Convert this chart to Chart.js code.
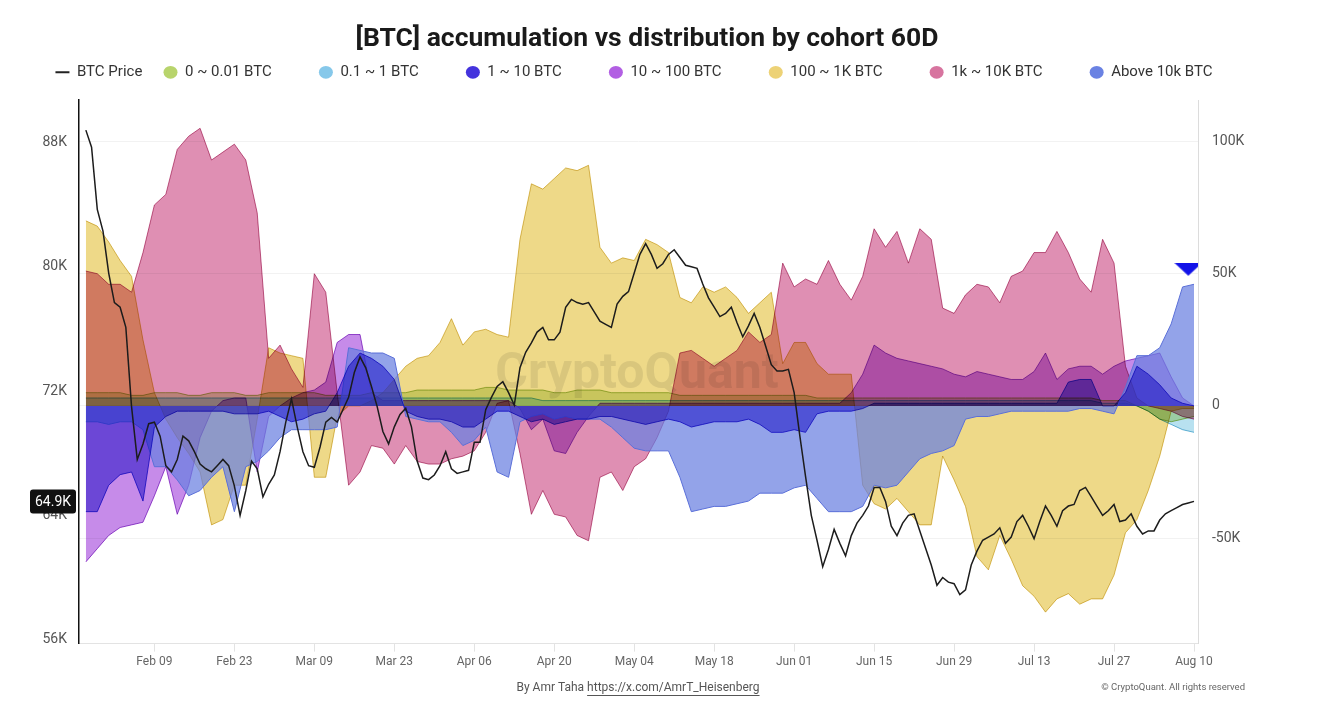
<!DOCTYPE html>
<html>
<head>
<meta charset="utf-8">
<script src="https://cdn.jsdelivr.net/npm/chart.js@4.4.1/dist/chart.umd.min.js"></script>
<style>
html,body{margin:0;padding:0;background:#fff;}
#wrap{position:relative;width:1292px;height:718px;}
</style>
</head>
<body>
<div id="wrap"><canvas id="c" width="1292" height="718"></canvas></div>
<script>
// ---- tick labels / categories ----
const tickDays = [12, 26, 40, 54, 68, 82, 96, 110, 124, 138, 152, 166, 180, 194];
const tickLabels = ['Feb 09','Feb 23','Mar 09','Mar 23','Apr 06','Apr 20','May 04','May 18','Jun 01','Jun 15','Jun 29','Jul 13','Jul 27','Aug 10'];
const priceTicks = [56, 64, 72, 80, 88];
const flowTicks = [-50, 0, 50, 100];

// ---- BTC price (K USD), daily ----
const btcPrice = [
 88.8,87.7,83.7,82.3,79.6,77.7,77.4,76.1,71.0,67.6,
 68.6,69.9,70.0,69.1,67.2,66.8,67.6,69.1,68.8,68.1,
 67.3,67.0,66.8,67.2,67.6,67.2,65.9,64.0,65.6,67.5,
 67.0,65.2,66.0,66.6,68.1,70.0,71.5,69.7,68.1,67.2,
 67.1,68.4,70.0,70.3,70.0,70.8,71.6,73.2,74.2,73.5,
 72.3,71.0,69.4,68.6,69.7,70.5,70.9,69.7,67.5,66.4,
 66.3,66.6,67.2,68.1,67.0,66.7,66.8,66.9,68.7,68.7,
 70.8,71.6,72.3,72.6,71.9,71.1,73.5,74.5,75.1,75.8,
 76.1,75.3,75.3,75.8,77.4,77.9,77.7,77.6,77.7,77.1,
 76.5,76.3,76.1,77.6,78.1,78.4,79.6,80.8,81.5,80.8,
 79.9,80.2,80.8,81.1,80.6,80.1,80.0,79.9,78.9,78.0,
 77.4,76.8,77.0,77.4,76.4,75.5,76.2,77.0,76.1,74.9,
 73.7,73.3,73.3,73.4,71.9,69.1,66.5,64.0,62.4,60.7,
 61.8,63.1,62.2,61.4,62.7,63.5,64.0,64.6,65.8,65.8,
 64.9,63.3,62.7,63.5,64.0,64.1,63.0,61.9,60.8,59.5,
 60.0,59.7,59.6,58.9,59.2,60.8,61.7,62.4,62.6,62.8,
 63.2,62.2,62.6,63.6,64.0,63.3,62.5,63.6,64.6,64.0,
 63.3,64.3,64.6,64.7,65.6,65.8,65.2,64.6,64.0,64.3,
 64.7,63.6,63.7,64.1,63.3,62.8,63.0,63.0,63.7,64.1,
 64.3,64.5,64.7,64.8,64.9
];

// ---- cohort 60D net position change (K BTC), every 2 days ----
const cohort0to001 = [
 5,5,5,5,4,4,5,5,5,4, 4,5,5,5,4,4,5,5,5,5, 5,4,4,4,4,5,5,5,5,6,
 6,6,6,6,6,7,7,6,6,6, 6,5,5,6,6,6,5,5,5,5, 5,5,4,4,4,4,4,4,4,4,
 4,4,4,4,3,3,3,3,3,3, 3,3,3,3,3,3,3,3,3,3, 3,3,3,3,3,3,3,3,3,2,
 2,2,0,-2,-5,-6,-5,-4
];
const cohort01to1 = [
 3,3,3,3,3,3,3,3,3,3, 3,3,3,3,3,3,3,3,3,3, 3,3,3,3,3,3,3,3,3,3,
 3,3,3,3,3,3,3,3,3,3, 2,2,2,2,2,2,2,2,2,2, 2,2,2,2,2,2,2,2,2,2,
 2,2,2,2,2,2,2,2,2,2, 2,2,2,2,2,2,2,2,2,2, 2,2,2,2,2,2,2,2,2,1,
 1,1,0,-2,-5,-7,-9,-10
];
const cohort1to10 = [
 -40,-40,-30,-26,-25,-36,-8,-4,-2,-2, -2,-2,-2,-3,-3,-3,-2,-4,-6,-5,
 -3,-2,5,15,20,18,15,10,-2,-4, -5,-5,-6,-8,-8,-5,-2,-2,-4,-6,
 -5,-7,-6,-5,-5,-4,-4,-5,-6,-7, -6,-5,-6,-8,-7,-6,-6,-6,-5,-7,
 -10,-10,-9,-10,-3,-2,-2,-2,-1,1, 1,1,1,1,1,1,1,1,1,1,
 1,1,1,1,1,1,9,10,10,0, 0,5,15,12,8,3,1,0
];
const cohort10to100 = [
 -59,-54,-49,-46,-45,-44,-34,-23,-41,-30, -12,-2,2,3,3,-25,-4,0,3,5,
 6,9,24,27,27,5,2,2,2,2, 2,2,2,2,2,2,2,2,-1,-9,
 -5,-17,-18,-10,-4,1,1,1,1,1, 1,1,1,1,1,1,1,1,1,1,
 1,1,1,1,1,1,1,5,12,23, 20,18,17,16,15,14,12,11,13,12,
 11,10,10,13,20,10,14,15,15,12, 15,17,18,19,20,11,3,0
];
const cohort100to1k = [
 70,68,62,55,49,25,5,-5,-12,-18, -25,-45,-43,-30,-30,-5,22,20,19,18,
 -27,-27,-4,0,0,2,5,10,15,18, 19,24,33,23,28,29,27,26,63,84,
 82,86,90,89,91,60,54,56,55,63, 61,58,41,39,45,43,45,41,35,39,
 43,16,24,24,16,12,12,12,-30,-37, -39,-35,-40,-45,-45,-19,-28,-38,-57,-62,
 -49,-58,-68,-72,-78,-73,-71,-75,-73,-73, -64,-48,-43,-32,-19,-2,-1,-1
];
const cohort1kto10k = [
 51,50,46,46,43,58,76,80,97,102, 105,93,96,99,93,73,18,23,14,7,
 50,43,5,-30,-25,-15,-16,-22,-15,-21, -22,-22,-20,-19,-17,-10,1,2,-18,-41,
 -32,-41,-42,-49,-51,-27,-25,-32,-23,-20, -12,-2,20,21,18,15,18,21,28,24,
 27,54,45,48,46,55,46,40,49,67, 60,66,54,67,63,37,35,42,46,45,
 39,49,51,58,58,66,58,48,43,63, 54,15,3,0,-1,-2,-4,-5
];
const cohortAbove10k = [
 -6,-6,-7,-6,-6,-9,-23,-23,-28,-34, -32,-27,-23,-40,-23,-21,-17,-12,-9,-9,
 -9,-9,-8,22,21,20,20,18,-4,-5, -6,-6,-10,-15,-13,-8,-25,-27,-6,-4,
 -3,-5,-4,-5,-5,-5,-8,-12,-16,-17, -17,-17,-27,-40,-39,-38,-38,-37,-36,-33,
 -33,-33,-31,-30,-35,-40,-40,-40,-38,-30, -31,-30,-25,-20,-18,-17,-15,-5,-4,-4,
 -3,-2,-2,-2,-2,-2,-2,-1,-1,-2, -3,7,19,19,22,31,45,46
];
const markerPoint = [{x: 193, y: 51.5}];

// ---- build ----
const daily = arr => arr.map((v, i) => ({x: i, y: v}));
const every2 = arr => arr.map((v, i) => ({x: i * 2, y: v}));

function area(name, pad, data, swatch, line, fillColor, order, blend) {
  return {
    label: name, legendName: name, legendPad: pad, swatch, blend,
    data: every2(data), yAxisID: 'yR',
    borderColor: line, backgroundColor: fillColor, borderWidth: 1,
    fill: 'origin', pointRadius: 0, pointHoverRadius: 0, tension: 0, order
  };
}

const tri = document.createElement('canvas');
tri.width = 28; tri.height = 14;
const tctx = tri.getContext('2d');
tctx.fillStyle = '#1212e8';
tctx.beginPath(); tctx.moveTo(0, 0); tctx.lineTo(28, 0); tctx.lineTo(14, 13); tctx.closePath(); tctx.fill();

const PAD = '          ';
const datasets = [
  { label: 'BTC Price', legendName: 'BTC Price', legendPad: '   ', swatch: '#222', isPrice: true,
    data: daily(btcPrice), yAxisID: 'yL', borderColor: '#1c1c1c', borderWidth: 1.5,
    pointRadius: 0, fill: false, tension: 0, order: 0, blend: 'source-over' },
  area('0 ~ 0.01 BTC', PAD, cohort0to001, '#b8d46c', '#a8c45c', 'rgba(181,211,107,0.55)', 4, 'multiply'),
  area('0.1 ~ 1 BTC', PAD, cohort01to1, '#86c8ea', '#6ab8d8', 'rgba(126,200,227,0.55)', 3, 'multiply'),
  area('1 ~ 10 BTC', PAD, cohort1to10, '#4433dd', '#4a3ee0', 'rgba(68,51,221,0.62)', 1, 'multiply'),
  area('10 ~ 100 BTC', PAD, cohort10to100, '#b25fe3', '#a050d0', 'rgba(176,94,224,0.72)', 5, 'multiply'),
  area('100 ~ 1K BTC', PAD, cohort100to1k, '#edd276', '#dcc060', 'rgba(232,204,96,0.75)', 7, 'multiply'),
  area('1k ~ 10K BTC', PAD, cohort1kto10k, '#d7749f', '#c4628e', 'rgba(212,106,154,0.75)', 6, 'multiply'),
  area('Above 10k BTC', '       ', cohortAbove10k, '#6a82e3', '#5a6fd8', 'rgba(106,128,224,0.72)', 2, 'source-over'),
  { label: 'marker', data: markerPoint, yAxisID: 'yR', showLine: false,
    pointStyle: tri, pointRadius: 10, order: -1, blend: 'source-over' }
];

function drawOrder(chart) {
  // Chart.js draws the highest `order` first
  return chart.data.datasets.map((d, i) => i)
    .sort((a, b) => (chart.data.datasets[b].order - chart.data.datasets[a].order) || (b - a));
}

const blendPlugin = {
  id: 'blend',
  beforeDatasetsDraw(chart) {
    chart.ctx.save();
    const seq = drawOrder(chart);
    chart.ctx.globalCompositeOperation = chart.data.datasets[seq[0]].blend || 'multiply';
  },
  afterDatasetDraw(chart, args) {
    const seq = drawOrder(chart);
    const k = seq.indexOf(args.index);
    const next = seq[k + 1];
    if (next !== undefined) {
      chart.ctx.globalCompositeOperation = chart.data.datasets[next].blend || 'multiply';
    }
  },
  afterDatasetsDraw(chart) {
    const c = chart.ctx;
    c.globalCompositeOperation = 'multiply';
    c.font = 'bold 50px Roboto';
    c.fillStyle = '#e9e9e9';
    c.textAlign = 'center';
    c.textBaseline = 'alphabetic';
    c.fillText('CryptoQuant', 637, 388);
    c.restore();
  }
};

const overlayPlugin = {
  id: 'overlay',
  afterDraw(chart) {
    const c = chart.ctx;
    const yL = chart.scales.yL;
    const last = btcPrice[btcPrice.length - 1];
    const py = yL.getPixelForValue(last);
    c.save();
    c.fillStyle = '#111';
    c.beginPath();
    if (c.roundRect) c.roundRect(30, py - 12, 46, 24, 3); else c.rect(30, py - 12, 46, 24);
    c.fill();
    c.fillStyle = '#fff';
    c.font = '14px Roboto';
    c.textAlign = 'center';
    c.textBaseline = 'middle';
    c.fillText(last.toFixed(1) + 'K', 53, py + 1);

    // footer
    c.font = '12px Roboto';
    c.fillStyle = '#555';
    c.textAlign = 'left';
    const a = 'By Amr Taha ', b = 'https://x.com/AmrT_Heisenberg';
    const wa = c.measureText(a).width, wb = c.measureText(b).width;
    const x0 = 638 - (wa + wb) / 2;
    c.fillText(a, x0, 688);
    c.fillText(b, x0 + wa, 688);
    c.fillRect(x0 + wa, 695, wb, 1);
    c.font = '9.5px Roboto';
    c.fillStyle = '#666';
    c.textAlign = 'right';
    c.fillText('\u00A9 CryptoQuant. All rights reserved', 1245, 688);
    c.restore();
  }
};

new Chart(document.getElementById('c'), {
  type: 'line',
  data: { datasets },
  options: {
    responsive: false,
    animation: false,
    devicePixelRatio: 1,
    layout: { padding: { top: 0, left: 40, right: 38, bottom: 46 } },
    interaction: { mode: null },
    plugins: {
      filler: { propagate: false, drawTime: 'beforeDatasetDraw' },
      tooltip: { enabled: false },
      title: {
        display: true,
        text: '[BTC] accumulation vs distribution by cohort 60D',
        color: '#1a1a1a',
        font: { family: 'Roboto', size: 26.5, weight: 'bold', lineHeight: 1.2 },
        padding: { top: 23, bottom: 0 }
      },
      legend: {
        display: true,
        position: 'top',
        labels: {
          usePointStyle: true,
          pointStyleWidth: 14,
          boxHeight: 9,
          padding: 10,
          color: '#333',
          font: { family: 'Roboto', size: 15 },
          generateLabels: (chart) => chart.data.datasets
            .map((ds, i) => ({ ds, i }))
            .filter(o => o.ds.legendName)
            .map(({ ds, i }) => ({
              text: ds.legendName + ds.legendPad,
              fillStyle: ds.swatch,
              strokeStyle: ds.swatch,
              lineWidth: ds.isPrice ? 2 : 0,
              pointStyle: ds.isPrice ? 'line' : 'circle',
              hidden: !chart.isDatasetVisible(i),
              datasetIndex: i,
              fontColor: '#333'
            }))
        }
      }
    },
    scales: {
      x: {
        type: 'linear', min: -1.2, max: 194.7,
        afterBuildTicks: s => { s.ticks = tickDays.map(v => ({ value: v })); },
        ticks: {
          autoSkip: false, maxRotation: 0, padding: 3, color: '#666',
          font: { family: 'Roboto', size: 12 },
          callback: v => { const k = tickDays.indexOf(v); return k >= 0 ? tickLabels[k] : ''; }
        },
        grid: { display: true, drawOnChartArea: false, drawTicks: true, tickLength: 8, color: '#e3e3e3' },
        border: { display: true, color: '#e3e3e3' }
      },
      xTop: {
        type: 'linear', position: 'top', display: true, min: 0, max: 1,
        ticks: { display: false }, grid: { display: false, drawTicks: false }, border: { display: false },
        afterFit: s => { s.height = 10.2; }
      },
      yL: {
        type: 'linear', position: 'left', min: 55.745, max: 90.74,
        afterBuildTicks: s => { s.ticks = priceTicks.map(v => ({ value: v })); },
        ticks: { color: '#555', padding: 12, font: { family: 'Roboto', size: 14 }, callback: v => v + 'K' },
        grid: { display: false, drawTicks: false },
        border: { display: true, color: '#111', width: 1.5 },
        afterFit: s => { s.width = 39; }
      },
      yR: {
        type: 'linear', position: 'right', min: -89.9, max: 115.7,
        afterBuildTicks: s => { s.ticks = flowTicks.map(v => ({ value: v })); },
        ticks: { color: '#555', padding: 14, font: { family: 'Roboto', size: 14 }, callback: v => v === 0 ? '0' : v + 'K' },
        grid: { color: '#f2f2f2', drawTicks: false },
        border: { display: true, color: '#dcdcdc' },
        afterFit: s => { s.width = 56; }
      }
    }
  },
  plugins: [blendPlugin, overlayPlugin]
});
</script>
</body>
</html>
